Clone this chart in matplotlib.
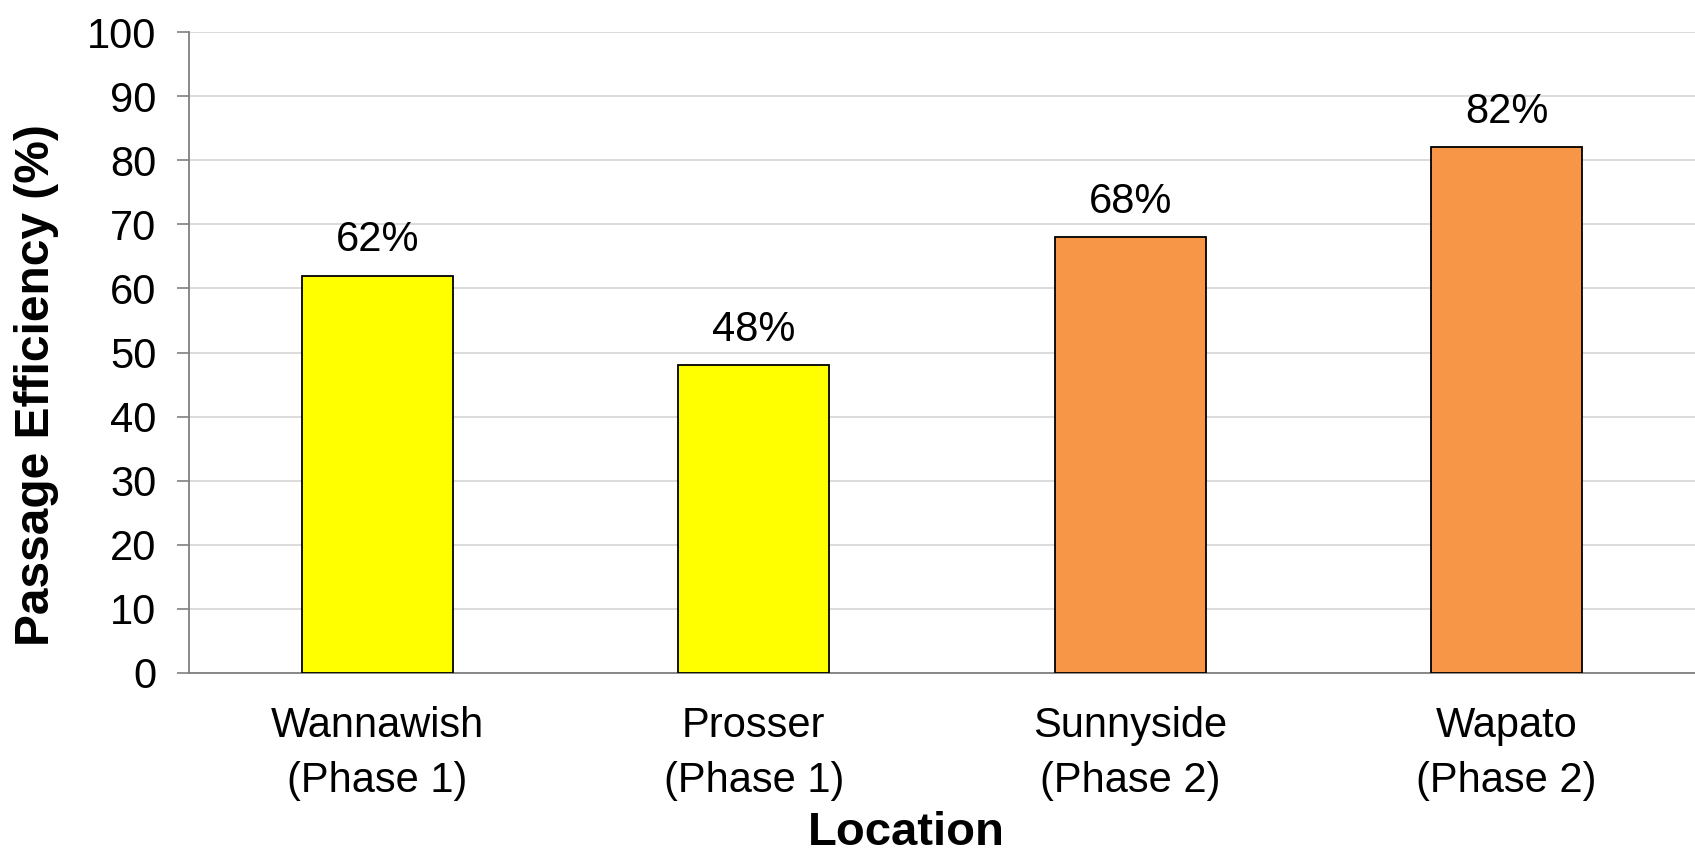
import matplotlib
matplotlib.use("Agg")
import matplotlib.pyplot as plt

locations = ["Wannawish\n(Phase 1)", "Prosser\n(Phase 1)", "Sunnyside\n(Phase 2)", "Wapato\n(Phase 2)"]
efficiency = [62, 48, 68, 82]
bar_colors = ["#FFFF00", "#FFFF00", "#F79646", "#F79646"]
y_ticks = [0, 10, 20, 30, 40, 50, 60, 70, 80, 90, 100]

plt.rcParams["font.family"] = ["Liberation Sans", "DejaVu Sans"]

W, H = 1695, 852
fig = plt.figure(figsize=(W / 100, H / 100), dpi=100)
ax = fig.add_axes([189 / W, 1 - 673 / H, (W - 189) / W, (673 - 32) / H])

x = list(range(len(locations)))
ax.bar(x, efficiency, width=0.4, color=bar_colors, edgecolor="black", linewidth=1.3, zorder=3)
ax.set_xlim(-0.5, len(locations) - 0.5)
ax.set_ylim(0, 100)
ax.set_yticks(y_ticks)
ax.set_yticklabels([str(t) for t in y_ticks], fontsize=30)
ax.set_xticks(x)
ax.set_xticklabels(locations, fontsize=30, linespacing=1.46)
ax.tick_params(axis="x", length=0, pad=24)
ax.tick_params(axis="y", length=8.5, width=1.2, color="#808080", pad=15, direction="out")

ax.grid(axis="y", color="#d9d9d9", linewidth=1.3, zorder=0)
ax.set_axisbelow(True)
for side in ("top", "right"):
    ax.spines[side].set_visible(False)
for side in ("left", "bottom"):
    ax.spines[side].set_color("#808080")
    ax.spines[side].set_linewidth(1.3)

for xi, v in zip(x, efficiency):
    ax.annotate(f"{v}%", (xi, v), xytext=(0, 11), textcoords="offset points",
                ha="center", va="bottom", fontsize=30)

fig.text(906 / W, 1 - 845 / H, "Location", ha="center", va="baseline",
         fontsize=34, fontweight="bold")
fig.text(37 / W, 1 - 385 / H, "Passage Efficiency (%)", ha="center", va="center",
         rotation=90, fontsize=34.5, fontweight="bold")

fig.savefig("out.png", dpi=100)
